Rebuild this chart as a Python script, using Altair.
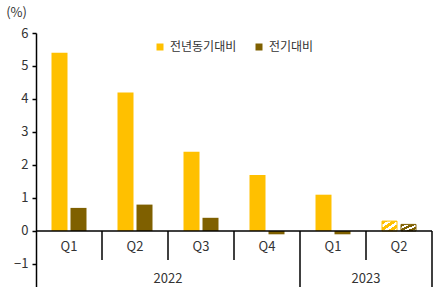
import altair as alt
import pandas as pd

keys = ["2022Q1", "2022Q2", "2022Q3", "2022Q4", "2023Q1", "2023Q2"]
quarters = ["Q1", "Q2", "Q3", "Q4", "Q1", "Q2"]
series = ["전년동기대비", "전기대비"]
yoy = [5.4, 4.2, 2.4, 1.7, 1.1, 0.3]
qoq = [0.7, 0.8, 0.4, -0.1, -0.1, 0.2]
hatched_key = "2023Q2"
years = ["2022", "2023"]
year_center_keys = ["2022Q3", "2023Q2"]  # band start of these = year group center
colors = ["#FFC000", "#7F6000"]
y_ticks = [-1, 0, 1, 2, 3, 4, 5, 6]
y_min, y_max = -1.697, 6

FONT = "Noto Sans CJK KR"
TXT = "#333333"

rows = []
for i, k in enumerate(keys):
    rows.append({"key": k, "series": series[0], "value": yoy[i]})
    rows.append({"key": k, "series": series[1], "value": qoq[i]})
df = pd.DataFrame(rows)

xscale = alt.Scale(domain=keys, paddingInner=0, paddingOuter=0)
yscale = alt.Scale(domain=[y_min, y_max], nice=False, zero=False)
off_scale = alt.Scale(domain=series, paddingInner=0.158, paddingOuter=0.816)

yaxis = alt.Axis(values=y_ticks, title="(%)", titleAngle=0, titleAlign="center",
                 titleBaseline="middle", titleX=-20, titleY=-21,
                 titleFont=FONT, titleFontSize=13, titleFontWeight="normal",
                 titleColor=TXT, labelFont=FONT, labelFontSize=13,
                 labelColor=TXT, labelPadding=4, tickSize=4, tickColor="#000",
                 labelOverlap=False, labelFlush=False, labelBound=False,
                 domainColor="#000", domainWidth=1.5, tickWidth=1.5, grid=False)

base = alt.Chart(df)

bars = base.transform_filter(alt.datum.key != hatched_key).mark_bar(width=16).encode(
    x=alt.X("key:N", scale=xscale, axis=None),
    xOffset=alt.XOffset("series:N", scale=off_scale),
    y=alt.Y("value:Q", scale=yscale, axis=yaxis),
    y2=alt.datum(0),
    color=alt.Color("series:N", scale=alt.Scale(domain=series, range=colors),
                    legend=alt.Legend(title=None, orient="none", direction="horizontal",
                                      legendX=118, legendY=8, symbolType="square",
                                      symbolSize=49, symbolStrokeWidth=0,
                                      labelFont=FONT, labelFontSize=12, labelColor=TXT,
                                      columnPadding=16, symbolOffset=0, labelOffset=4)),
)


def stripes(c):
    stops = []
    n = 3
    for k in range(n):
        a = k / n
        b = a + 0.55 / n
        e = (k + 1) / n
        stops += [alt.GradientStop(offset=a, color=c), alt.GradientStop(offset=b, color=c),
                  alt.GradientStop(offset=b, color="#ffffff"),
                  alt.GradientStop(offset=e, color="#ffffff")]
    return alt.LinearGradient(gradient="linear", stops=stops, x1=0, y1=0, x2=1, y2=1)


hatch_layers = []
for s, c in zip(series, colors):
    hatch_layers.append(
        base.transform_filter((alt.datum.key == hatched_key) & (alt.datum.series == s))
        .mark_bar(width=15, fill=stripes(c), stroke=c, strokeWidth=1)
        .encode(
            x=alt.X("key:N", scale=xscale, axis=None),
            xOffset=alt.XOffset("series:N", scale=off_scale),
            y=alt.Y("value:Q", scale=yscale, axis=yaxis),
            y2=alt.datum(0),
        )
    )

zero = alt.Chart(pd.DataFrame({"v": [0]})).mark_rule(color="#000", strokeWidth=1.5).encode(
    y=alt.Y("v:Q", scale=yscale, axis=yaxis), x=alt.value(0), x2=alt.value(396))

qdiv = alt.Chart(pd.DataFrame({"key": keys[1:4] + keys[5:]})).mark_rule(
    color="#000", strokeWidth=1.5).encode(
    x=alt.X("key:N", scale=xscale, bandPosition=0, axis=None),
    y=alt.Y(datum=0, axis=yaxis), y2=alt.datum(-0.88))

ydiv1 = alt.Chart(pd.DataFrame({"key": ["2023Q1"]})).mark_rule(
    color="#000", strokeWidth=1.5).encode(
    x=alt.X("key:N", scale=xscale, bandPosition=0, axis=None),
    y=alt.Y(datum=0, axis=yaxis), y2=alt.datum(y_min))
ydiv2 = alt.Chart(pd.DataFrame({"key": ["2023Q2"]})).mark_rule(
    color="#000", strokeWidth=1.5).encode(
    x=alt.X("key:N", scale=xscale, bandPosition=1, axis=None),
    y=alt.Y(datum=0, axis=yaxis), y2=alt.datum(y_min))

qlab = alt.Chart(pd.DataFrame({"key": keys, "q": quarters})).mark_text(
    font=FONT, fontSize=13, color=TXT, baseline="middle").encode(
    x=alt.X("key:N", scale=xscale, axis=None), y=alt.Y(datum=-0.485, axis=yaxis), text="q:N")

ylab = alt.Chart(pd.DataFrame({"key": year_center_keys, "yr": years})).mark_text(
    font=FONT, fontSize=13, color=TXT, baseline="middle").encode(
    x=alt.X("key:N", scale=xscale, bandPosition=0, axis=None),
    y=alt.Y(datum=-1.45, axis=yaxis), text="yr:N")

chart = alt.layer(bars, *hatch_layers, zero, qdiv, ydiv1, ydiv2, qlab, ylab).properties(
    width=396, height=254,
    autosize=alt.AutoSizeParams(type="none"),
    padding={"left": 36, "top": 33, "right": 16, "bottom": 0},
).configure_view(stroke=None).configure_axis(labelOverlap=False)

chart.save("out.html", embed_options={"renderer": "svg", "actions": False})
